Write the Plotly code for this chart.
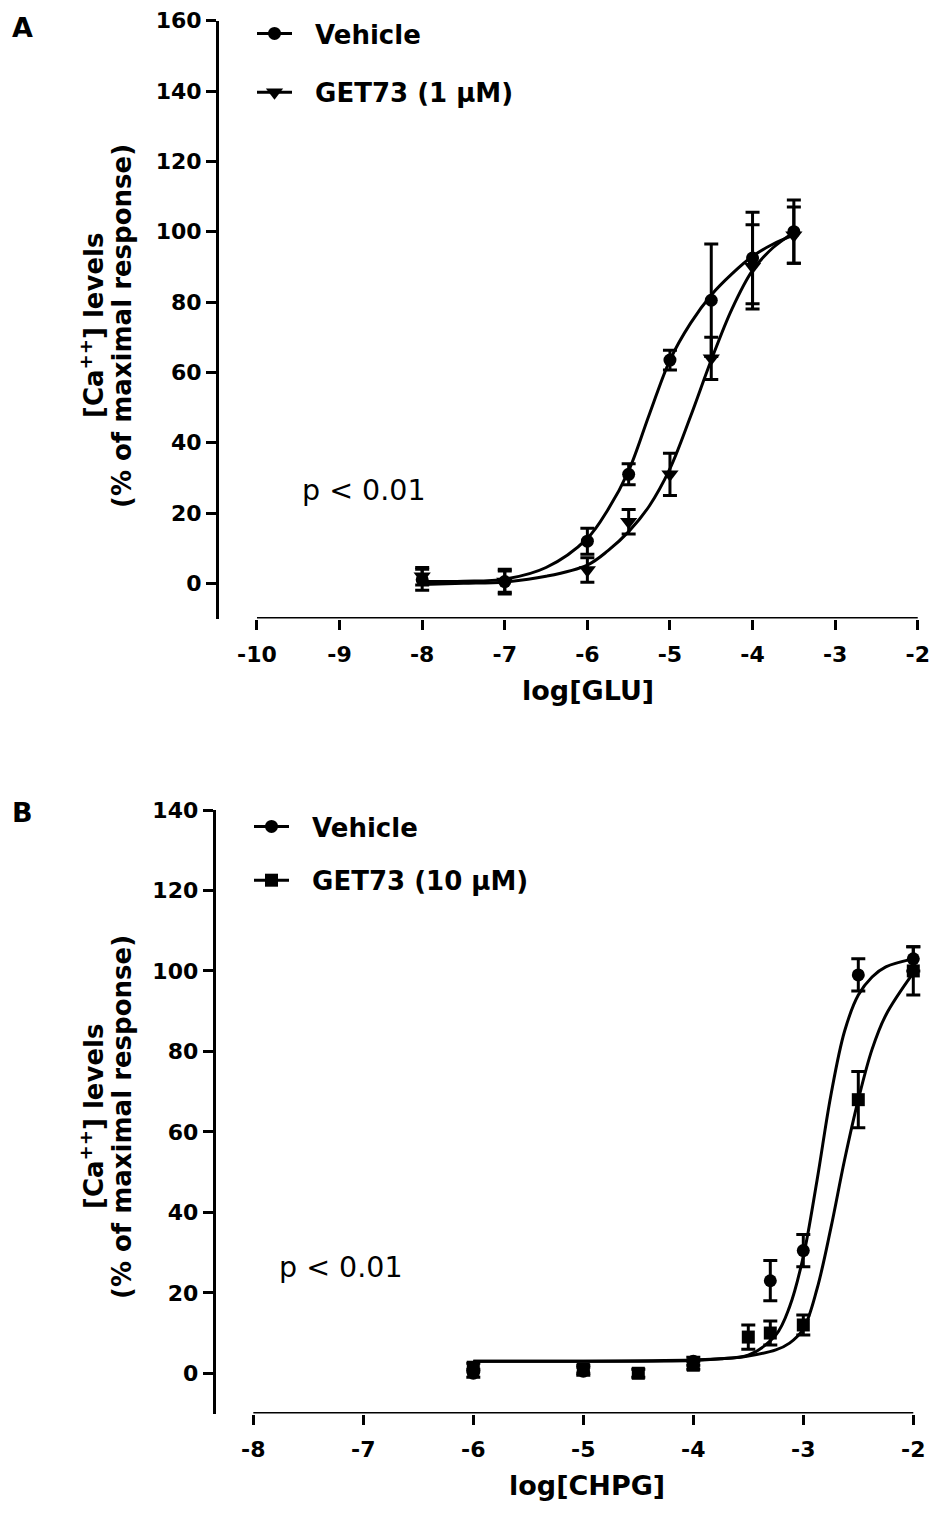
import plotly.graph_objects as go

W, H = 946, 1518
PAGE_PAD = 8  # the html body margin pushes the figure by 8px

# ---- panel A: log[GLU] ----
glu_x = [-8, -7, -6, -5.5, -5, -4.5, -4, -3.5]
veh_a_y = [1.0, 0.5, 12, 31, 63.5, 80.5, 92.5, 100]
veh_a_err = [3, 3.5, 3.7, 3, 2.8, 16, 13, 9]
get1_y = [2, 0.5, 3.8, 17.5, 31, 64, 90, 99]
get1_err = [2.5, 3, 3.5, 3.5, 6, 6, 12, 8]

# fitted curves
fit_a_x = [-8, -7.5, -7, -6.5, -6, -5.75, -5.5, -5.25, -5, -4.75, -4.5, -4.25, -4, -3.75, -3.5]
fit_veh_a = [0.5, 0.6, 1.2, 4.5, 12.8, 21, 32, 48, 63.5, 74, 82, 88, 93, 96.5, 99]
fit_get1 = [-0.3, 0, 0.4, 2, 5.2, 9.3, 14.7, 22, 32.6, 47.5, 63.5, 78, 89, 95.5, 99.8]

glu_ticks = [-10, -9, -8, -7, -6, -5, -4, -3, -2]
glu_labels = ["-10", "-9", "-8", "-7", "-6", "-5", "-4", "-3", "-2"]

# ---- panel B: log[CHPG] ----
veh_b_x = [-6, -5, -4, -3.3, -3, -2.5, -2]
veh_b_y = [0, 0.5, 3, 23, 30.5, 99, 103]
veh_b_err = [1, 1, 1, 5, 4, 4, 3]
get10_x = [-6, -5, -4.5, -4, -3.5, -3.3, -3, -2.5, -2]
get10_y = [1.5, 1, 0, 2, 9, 10, 12, 68, 100]
get10_err = [1, 1, 1, 1, 3, 3, 2.5, 7, 6]

fit_b_x = [-6, -5, -4, -3.75, -3.5, -3.25, -3.125, -3, -2.875, -2.75, -2.625, -2.5, -2.375, -2.25, -2]
fit_veh_b = [3, 3, 3.3, 3.6, 4.5, 9.5, 16.5, 29, 48, 69, 85, 94, 98.5, 101, 103]
fit_get10 = [3, 3, 3.2, 3.6, 4.3, 5.8, 7.5, 11, 21, 36, 53, 68, 80.5, 89, 99.5]

chpg_ticks = [-8, -7, -6, -5, -4, -3, -2]
chpg_labels = ["-8", "-7", "-6", "-5", "-4", "-3", "-2"]

BOLD = dict(family="DejaVu Sans", color="black", weight="bold")
TICKS = dict(BOLD, size=22)
LEG = dict(BOLD, size=26)
TITLE = dict(BOLD, size=26)
NB = "\u00a0\u00a0"


def px_x(p):
    return (p - PAGE_PAD) / W


def px_y(p):
    return 1 - (p - PAGE_PAD) / H


fig = go.Figure()


def add_panel(xa, ya, leg, fits, sets):
    for fx, fy in fits:
        fig.add_trace(go.Scatter(x=fx, y=fy, mode="lines", xaxis=xa, yaxis=ya,
                                 line=dict(color="black", width=3, shape="spline"),
                                 showlegend=False, hoverinfo="skip"))
    for name, sym, size, x, y, err in sets:
        fig.add_trace(go.Scatter(x=x, y=y, mode="markers", xaxis=xa, yaxis=ya,
                                 marker=dict(symbol=sym, size=size, color="black"),
                                 error_y=dict(type="data", array=err, color="black",
                                              thickness=3, width=7),
                                 cliponaxis=False, showlegend=False))
        # legend key only
        fig.add_trace(go.Scatter(x=[None], y=[None], mode="lines+markers", name=NB + name,
                                 xaxis=xa, yaxis=ya, legend=leg, legendgroup=name,
                                 marker=dict(symbol=sym, size=size, color="black"),
                                 line=dict(color="black", width=3)))


add_panel("x", "y", "legend",
          [(fit_a_x, fit_veh_a), (fit_a_x, fit_get1)],
          [("Vehicle", "circle", 13, glu_x, veh_a_y, veh_a_err),
           ("GET73 (1 μM)", "triangle-down", 15, glu_x, get1_y, get1_err)])
add_panel("x2", "y2", "legend2",
          [(fit_b_x, fit_veh_b), (fit_b_x, fit_get10)],
          [("Vehicle", "circle", 13, veh_b_x, veh_b_y, veh_b_err),
           ("GET73 (10 µM)", "square", 13, get10_x, get10_y, get10_err)])

axis_common = dict(showgrid=False, zeroline=False, ticks="outside", ticklen=10,
                   tickwidth=3, tickcolor="black", tickfont=TICKS, automargin=False)

fig.update_layout(
    width=W, height=H, margin=dict(l=0, r=0, t=0, b=0, autoexpand=False),
    paper_bgcolor="white", plot_bgcolor="white",
    xaxis=dict(axis_common, domain=[px_x(219), px_x(926)], range=[-10.46, -1.9],
               tickvals=glu_ticks, ticktext=glu_labels, ticklabelstandoff=6,
               showline=False, anchor="y"),
    yaxis=dict(axis_common, domain=[px_y(618.5), px_y(20.7)], range=[-10, 160],
               tick0=0, dtick=20, showline=True, linewidth=3, linecolor="black", anchor="x"),
    xaxis2=dict(axis_common, domain=[px_x(215.7), px_x(921)], range=[-8.342, -1.93],
                tickvals=chpg_ticks, ticktext=chpg_labels, ticklabelstandoff=6,
                showline=False, anchor="y2"),
    yaxis2=dict(axis_common, domain=[px_y(1413.5), px_y(810)], range=[-10, 140],
                tick0=0, dtick=20, showline=True, linewidth=3, linecolor="black", anchor="x2"),
    legend=dict(x=px_x(252), y=px_y(10), xanchor="left", yanchor="top",
                font=LEG, tracegroupgap=22, itemwidth=35, bgcolor="rgba(0,0,0,0)"),
    legend2=dict(x=px_x(249), y=px_y(803), xanchor="left", yanchor="top",
                 font=LEG, tracegroupgap=17, itemwidth=35, bgcolor="rgba(0,0,0,0)"),
)

# x axis lines start at the first tick, detached from the y axis
fig.add_shape(type="line", xref="x", yref="y", x0=-10, x1=-2, y0=-10, y1=-10,
              line=dict(color="black", width=3))
fig.add_shape(type="line", xref="x2", yref="y2", x0=-8, x1=-2, y0=-10, y1=-10,
              line=dict(color="black", width=3))


def note(text, x, y, font, xanchor="center", angle=0):
    fig.add_annotation(text=text, x=px_x(x), y=px_y(y), xref="paper", yref="paper",
                       xanchor=xanchor, yanchor="middle", showarrow=False,
                       font=font, textangle=angle)


note("A", 10, 28, dict(BOLD, size=27), xanchor="left")
note("B", 10, 812, dict(BOLD, size=27), xanchor="left")
for cy in (326, 1117):
    note("[Ca<sup>++</sup>] levels", 92, cy, TITLE, angle=-90)
    note("(% of maximal response)", 122, cy, TITLE, angle=-90)
note("log[GLU]", 588, 690, dict(BOLD, size=27))
note("log[CHPG]", 587, 1485, dict(BOLD, size=27))
pfont = dict(family="DejaVu Sans", size=28.5, color="black")
note("p &lt; 0.01", 300, 490, pfont, xanchor="left")
note("p &lt; 0.01", 277, 1267, pfont, xanchor="left")

fig.write_html("out.html")
